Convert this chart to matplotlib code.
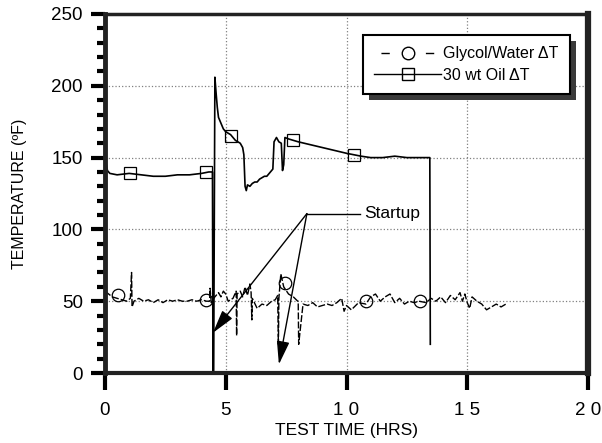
import matplotlib
matplotlib.use("Agg")
import matplotlib.pyplot as plt
from matplotlib.lines import Line2D
from matplotlib.patches import Rectangle
from matplotlib.ticker import MultipleLocator
from matplotlib.transforms import IdentityTransform

plt.rcParams['font.family'] = ['Liberation Sans', 'DejaVu Sans']

# ---- data ----
oil_t = [0.0, 0.05, 0.1, 0.2, 0.5, 1.0, 1.5, 2.0, 2.5, 3.0, 3.5, 4.0, 4.3, 4.45,
         4.47, 4.5, 4.55, 4.6, 4.65, 4.7, 4.8, 4.9, 5.0, 5.2, 5.4, 5.6, 5.7, 5.75,
         5.8, 5.85, 5.9, 6.0, 6.1, 6.2, 6.3, 6.4, 6.5, 6.6, 6.7, 6.8, 6.95, 7.0,
         7.1, 7.2, 7.3, 7.35, 7.4, 7.45, 7.6, 7.8, 8.0, 8.5, 9.0, 9.5, 10.0, 10.3,
         10.6, 11.0, 11.5, 12.0, 12.5, 13.0, 13.45, 13.47]
oil_v = [152, 146, 141, 139, 138, 139, 138, 137, 137, 138, 138, 139, 140, 140,
         0, 0, 206, 195, 185, 178, 174, 170, 168, 166, 162, 160, 157, 152,
         130, 127, 131, 130, 132, 133, 133, 135, 136, 137, 137, 139, 142, 161,
         164, 161, 160, 141, 145, 164, 163, 162, 161, 159, 157, 155, 153, 152,
         151, 150, 150, 151, 150, 150, 150, 20]
oil_mark_t = [1.05, 4.2, 5.2, 7.8, 10.3]
oil_mark_v = [139, 140, 165, 162, 152]

gly_t = [0.0, 0.15, 0.3, 0.5, 0.7, 0.9, 1.05, 1.1, 1.12, 1.2, 1.4, 1.6, 1.8,
         2.0, 2.2, 2.4, 2.6, 2.8, 3.0, 3.2, 3.4, 3.6, 3.8, 4.0, 4.2, 4.33, 4.35,
         4.4, 4.5, 4.7, 4.8, 4.9, 5.0, 5.1, 5.3, 5.43, 5.45, 5.47, 5.6, 5.7, 5.8,
         5.9, 6.0, 6.05, 6.08, 6.1, 6.3, 6.5, 6.7, 6.9, 7.05, 7.15, 7.18, 7.2,
         7.28, 7.4, 7.6, 7.8, 7.98, 8.0, 8.02, 8.2, 8.4, 8.6, 8.8, 9.0, 9.2, 9.4,
         9.6, 9.8, 9.9, 10.0, 10.2, 10.5, 10.8, 11.0, 11.2, 11.4, 11.6, 11.8,
         12.0, 12.2, 12.4, 12.6, 12.8, 13.0, 13.3, 13.5, 13.7, 13.9, 14.1, 14.3,
         14.5, 14.7, 14.8, 14.9, 15.0, 15.1, 15.2, 15.4, 15.6, 15.8, 16.0, 16.2,
         16.4, 16.6]
gly_v = [57, 55, 53, 52, 51, 50, 52, 70, 46, 50, 52, 50, 51,
         49, 51, 49, 51, 50, 51, 50, 50, 51, 50, 51, 50, 50, 59,
         49, 52, 56, 53, 57, 55, 50, 52, 57, 26, 55, 57, 53, 60,
         54, 62, 56, 37, 52, 45, 48, 47, 50, 51, 54, 20, 52,
         69, 60, 55, 53, 50, 50, 20, 48, 47, 49, 46, 47, 48, 47,
         49, 52, 43, 47, 44, 49, 48, 53, 55, 50, 53, 55,
         49, 52, 48, 50, 49, 50, 49, 52, 50, 53, 49, 54,
         51, 56, 50, 55, 49, 45, 53, 50, 48, 44, 46, 48,
         46, 48]
gly_mark_t = [0.55, 4.2, 7.45, 10.8, 13.05]
gly_mark_v = [54, 51, 63, 50, 50]

xticks = [0, 5, 10, 15, 20]
xtick_labels = ['0', '5', '1 0', '1 5', '2 0']
yticks = [0, 50, 100, 150, 200, 250]

# ---- figure ----
fig = plt.figure(figsize=(6.02, 4.43), dpi=100)
ax = fig.add_axes([105/602, 1 - 373/443, (588-105)/602, (373-14)/443])

ax.plot(oil_t, oil_v, color='black', lw=1.2)
ax.plot(oil_mark_t, oil_mark_v, ls='none', marker='s', ms=8, mfc='none',
        mec='black', mew=0.9)
ax.plot(gly_t, gly_v, color='black', lw=1.0, ls=(0, (5, 1.5)))
ax.plot(gly_mark_t, gly_mark_v, ls='none', marker='o', ms=9, mfc='none',
        mec='black', mew=0.9)

ax.set_xlim(0, 20)
ax.set_ylim(0, 250)
ax.set_xticks(xticks)
ax.set_xticklabels(xtick_labels)
ax.set_yticks(yticks)
ax.yaxis.set_minor_locator(MultipleLocator(10))
ax.tick_params(axis='x', direction='out', length=12, width=3, pad=9,
               labelsize=13.5)
ax.tick_params(axis='y', which='major', direction='out', length=10, width=3,
               pad=6, labelsize=13.5)
ax.tick_params(axis='y', which='minor', direction='out', length=6, width=3)

for g in [5, 10, 15]:
    ax.axvline(g, color='gray', lw=0.9, ls=':', zorder=0)
for g in [50, 100, 150, 200]:
    ax.axhline(g, color='gray', lw=0.9, ls=':', zorder=0)

ax.spines['left'].set_linewidth(3.5)
ax.spines['bottom'].set_linewidth(3)
ax.spines['right'].set_linewidth(4.5)
ax.spines['top'].set_linewidth(2.5)
for s in ax.spines.values():
    s.set_color('#222222')

ax.set_xlabel('TEST TIME (HRS)', fontsize=12.5)
ax.xaxis.set_label_coords(0.5, (373 - 423) / 359)
ax.set_ylabel('TEMPERATURE (ºF)', fontsize=11.5)
ax.yaxis.set_label_coords((27 - 105) / 483, 0.5)

# Startup annotation
ax.plot([8.36, 10.55], [111, 111], color='black', lw=1.0)
ax.text(10.75, 111, 'Startup', fontsize=12.5, va='center', ha='left')
for tip in [(4.47, 28), (7.2, 6)]:
    ax.annotate('', xy=tip, xytext=(8.36, 111),
                arrowprops=dict(arrowstyle='-|>,head_length=1.1,head_width=0.3',
                                mutation_scale=13, color='black', lw=1.0,
                                shrinkA=0, shrinkB=0))

handles = [
    Line2D([], [], color='black', lw=1.0, ls=(43, (6, 26, 6, 10)), marker='o',
           ms=9, mfc='none', mec='black'),
    Line2D([], [], color='black', lw=1.0, marker='s', ms=8, mfc='none',
           mec='black'),
]
leg = ax.legend(handles, ['Glycol/Water ΔT', '30 wt Oil ΔT'], loc='upper right',
                bbox_to_anchor=((570 - 105) / 483, (373 - 35) / 359),
                borderaxespad=0, fontsize=11.5, handlelength=4.2,
                handletextpad=0.15, borderpad=0.7, labelspacing=0.4,
                fancybox=False, framealpha=1, edgecolor='black')
leg.get_frame().set_linewidth(1.5)
leg.set_zorder(5)

fig.canvas.draw()
bb = leg.get_window_extent()
shadow = Rectangle((bb.x0 + 6, bb.y0 - 6), bb.width, bb.height,
                   transform=IdentityTransform(), facecolor='#3a3a3a',
                   edgecolor='none', zorder=4)
ax.add_artist(shadow)

fig.savefig('out.png', dpi=100)
